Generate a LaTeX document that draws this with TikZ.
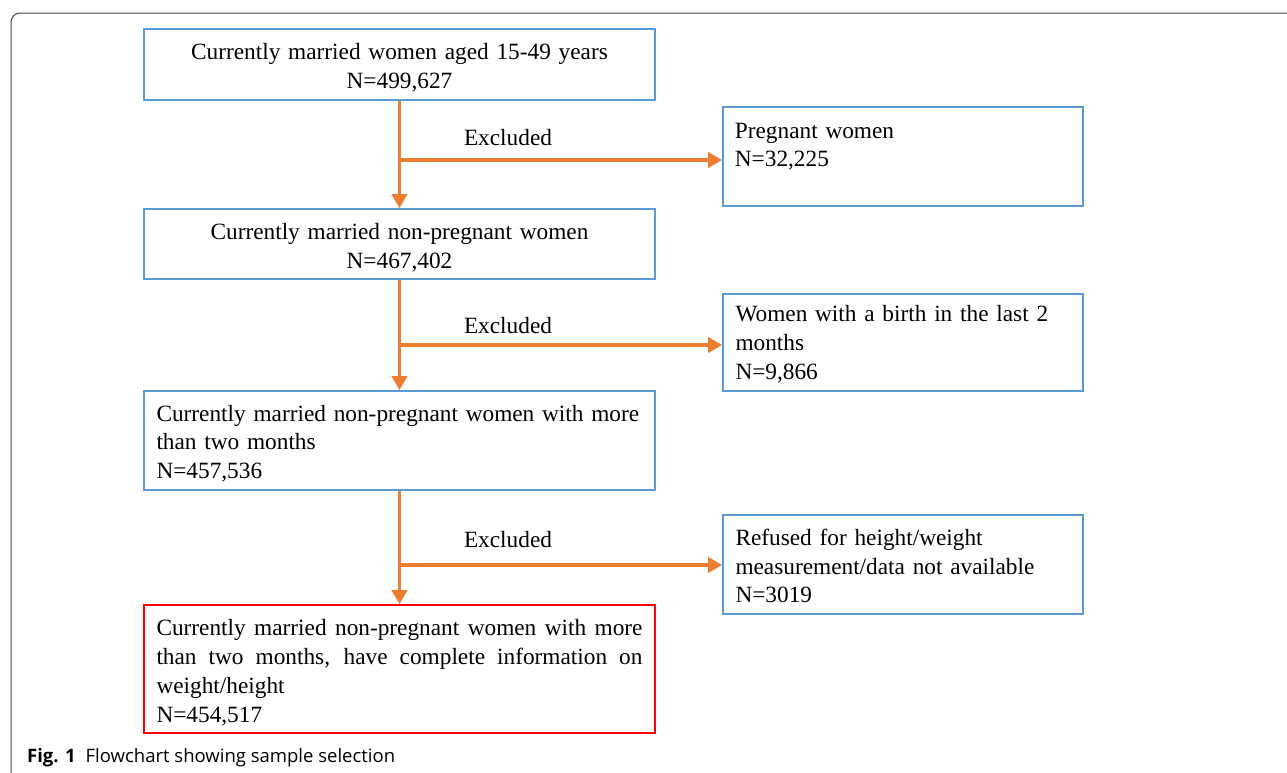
\documentclass[tikz,border=0pt]{standalone}
\usepackage{fontspec}
\setmainfont{Liberation Serif}
\newfontfamily\capfont{Open Sans}
\usetikzlibrary{arrows.meta,calc}
\definecolor{boxblue}{HTML}{5B9BD5}
\definecolor{arrorange}{HTML}{ED7D31}
\definecolor{boxred}{HTML}{FF0000}
\definecolor{framegray}{HTML}{444444}
\begin{document}
\begin{tikzpicture}[x=1pt,y=-1pt,
  every node/.style={font=\fontsize{23.3}{28.8}\selectfont},
  lbox/.style={draw=boxblue, line width=1.6pt, rectangle, inner sep=0pt, minimum width=511pt, minimum height=#1},
  rbox/.style={draw=boxblue, line width=1.6pt, rectangle, inner sep=0pt, minimum width=360pt, minimum height=#1},
  ltxt/.style={inner sep=0pt, text width=486pt},
  rtxt/.style={inner sep=0pt, text width=335pt, align=left},
  arr/.style={draw=arrorange, line width=3.8pt, -{Triangle[width=15pt,length=14pt]}},
  lbl/.style={inner sep=0pt}
]
\useasboundingbox (0,0) rectangle (1287,772);
\draw[framegray, line width=1pt, rounded corners=9pt] (11,790) -- (11,13) -- (1300,13);

\node[lbox=71pt] (b1) at (399.5,64.5) {};
\node[rbox=99pt] (b2) at (903,156.5) {};
\node[lbox=70pt] (b3) at (399.5,244) {};
\node[rbox=97pt] (b4) at (903,342.5) {};
\node[lbox=99pt] (b5) at (399.5,440.5) {};
\node[rbox=99pt] (b6) at (903,564.5) {};
\node[lbox=128pt, draw=boxred] (b7) at (399.5,669) {};

\node[ltxt, align=center] (t1) at ($(b1)+(0,3)$) {Currently married women aged 15-49 years\\N=499,627};
\node[rtxt, anchor=north west] (t2) at ($(b2.north west)+(12.5,16.5)$) {Pregnant women\\N=32,225};
\node[ltxt, align=center] (t3) at ($(b3)+(0,3.5)$) {Currently married non-pregnant women\\N=467,402};
\node[rtxt] (t4) at ($(b4)+(0,1.5)$) {Women with a birth in the last 2\\months\\N=9,866};
\node[ltxt, align=left] (t5) at ($(b5)+(0,3)$) {Currently married non-pregnant women with more\\than two months\\N=457,536};
\node[rtxt] (t6) at ($(b6)+(0,1.5)$) {Refused for height/weight\\measurement/data not available\\N=3019};
\node[ltxt, align=justify] (t7) at ($(b7)+(0,3.5)$) {\hyphenpenalty=10000 Currently married non-pregnant women with more\linebreak than two months, have complete information on\linebreak weight/height\\N=454,517};

\coordinate (j1) at (399.5,160);
\coordinate (j2) at (399.5,345);
\coordinate (j3) at (399.5,565);

\draw[arr] (b1.south) -- (b3.north);
\draw[arr] (b3.south) -- (b5.north);
\draw[arr] (b5.south) -- (b7.north);
\draw[arr] (j1) -- (j1 -| b2.west);
\draw[arr] (j2) -- (j2 -| b4.west);
\draw[arr] (j3) -- (j3 -| b6.west);

\node[lbl] (e1) at (508,137.5) {Excluded};
\node[lbl] (e2) at (508,325.5) {Excluded};
\node[lbl] (e3) at (508,539.5) {Excluded};

\node[anchor=base west, inner sep=0pt, font=\capfont\fontsize{18.5}{22}\selectfont] (cap) at (27,762) {\textbf{Fig. 1}\hspace{10pt}Flowchart showing sample selection};
\end{tikzpicture}
\end{document}
